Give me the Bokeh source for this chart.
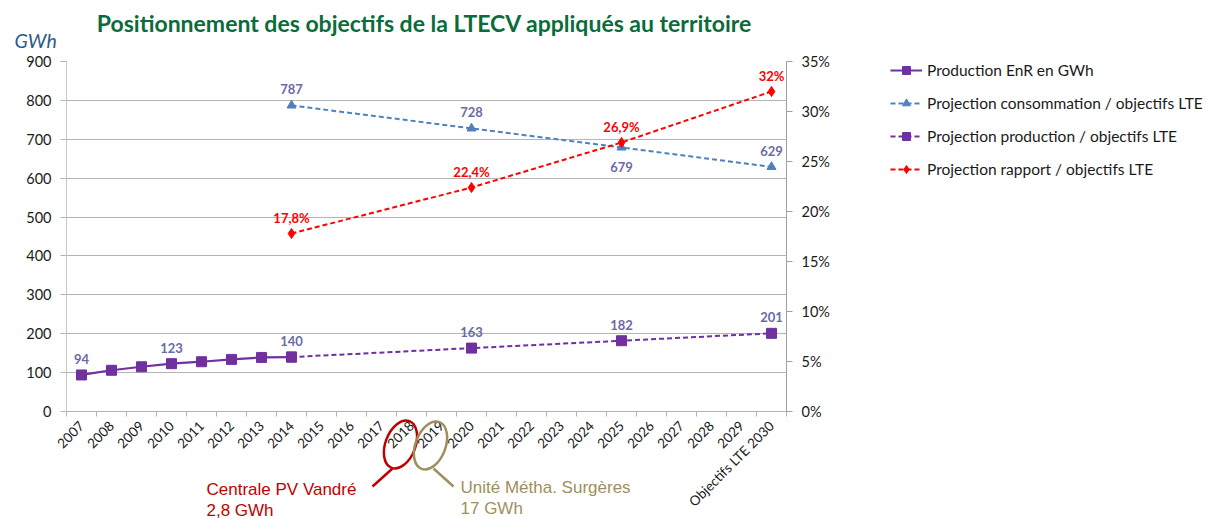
from math import pi, radians
from bokeh.plotting import figure
from bokeh.layouts import row
from bokeh.models import (Range1d, LinearAxis, FixedTicker, Legend, LegendItem,
                          PrintfTickFormatter)
from bokeh.core.properties import value
from bokeh.embed import file_html
from bokeh.resources import INLINE

# ---- data -------------------------------------------------------------
categories = ["2007", "2008", "2009", "2010", "2011", "2012", "2013", "2014",
              "2015", "2016", "2017", "2018", "2019", "2020", "2021", "2022",
              "2023", "2024", "2025", "2026", "2027", "2028", "2029",
              "Objectifs LTE 2030"]

prod_cats = ["2007", "2008", "2009", "2010", "2011", "2012", "2013", "2014"]
prod_values = [94, 106, 115, 123, 128, 134, 139, 140]
prod_labelled = ["2007", "2010", "2014"]

proj_cats = ["2014", "2020", "2025", "Objectifs LTE 2030"]
proj_prod_values = [140, 163, 182, 201]
proj_conso_values = [787, 728, 679, 629]
proj_ratio_values = [17.8, 22.4, 26.9, 32.0]

series_names = ["Production EnR en GWh",
                "Projection consommation / objectifs LTE",
                "Projection production / objectifs LTE",
                "Projection rapport / objectifs LTE"]

title_text = "Positionnement des objectifs de la LTECV appliqués au territoire"
unit_text = "GWh"
callout_1 = ["Centrale PV Vandré", "2,8 GWh"]
callout_2 = ["Unité Métha. Surgères", "17 GWh"]

# ---- styling ----------------------------------------------------------
PURPLE = "#7030A0"
BLUE = "#4F81BD"
RED = "#FF0000"
SLATE = "#6A6AA6"
GREEN = "#0B6B3A"
GRID = "#B4B4B4"
DARK_RED = "#C00000"
OLIVE = "#A08F5C"
FONT = "Lato"

W, H = 1211, 519
MAIN_W = 890                       # chart part; the legend panel fills the rest
# frame placement on the canvas (pixels)
FL, FT, FR, FB = 66, 61, 786, 411
FW, FH = FR - FL, FB - FT
Y_MAX = 900
N = len(categories)

pos = {c: i for i, c in enumerate(categories)}
x_prod = [pos[c] for c in prod_cats]
x_proj = [pos[c] for c in proj_cats]

p = figure(width=MAIN_W, height=H,
           x_range=Range1d(-0.5, N - 0.5),
           y_range=Range1d(0, Y_MAX),
           output_backend="svg", toolbar_location=None,
           min_border_left=FL, min_border_right=MAIN_W - FR,
           min_border_top=FT, min_border_bottom=H - FB,
           outline_line_color=None, background_fill_color="white",
           border_fill_color="white")

# ---- axes --------------------------------------------------------------
p.xaxis.ticker = FixedTicker(ticks=list(range(N)),
                             minor_ticks=[i - 0.5 for i in range(N + 1)])
p.xaxis.major_label_overrides = {i: c for i, c in enumerate(categories)}
p.xaxis.major_label_orientation = pi / 4
p.xaxis.major_tick_line_color = None
p.xaxis.major_tick_out = 0
p.xaxis.major_tick_in = 0
p.xaxis.minor_tick_out = 5
p.xaxis.minor_tick_in = 0
p.xaxis.minor_tick_line_color = GRID
p.xaxis.axis_line_color = GRID
p.xaxis.major_label_standoff = 7
p.xaxis.major_label_text_font = FONT
p.xaxis.major_label_text_font_size = "13.5px"
p.xaxis.major_label_text_color = "#1A1A1A"

p.yaxis.ticker = FixedTicker(ticks=[0, 100, 200, 300, 400, 500, 600, 700, 800, 900])
p.yaxis.axis_line_color = "#C8C8C8"
p.yaxis.major_tick_line_color = GRID
p.yaxis.major_tick_out = 6
p.yaxis.major_tick_in = 0
p.yaxis.minor_tick_line_color = None
p.yaxis.major_label_standoff = 9
p.yaxis.major_label_text_font = FONT
p.yaxis.major_label_text_font_size = "14.5px"
p.yaxis.major_label_text_color = "#1A1A1A"

p.extra_y_ranges = {"pct": Range1d(0, 35)}
right = LinearAxis(y_range_name="pct",
                   ticker=FixedTicker(ticks=[0, 5, 10, 15, 20, 25, 30, 35]),
                   formatter=PrintfTickFormatter(format="%d%%"))
right.axis_line_color = "#A0A0A0"
right.major_tick_line_color = "#A0A0A0"
right.major_tick_out = 6
right.major_tick_in = 0
right.minor_tick_line_color = None
right.major_label_standoff = 9
right.major_label_text_font = FONT
right.major_label_text_font_size = "14.5px"
right.major_label_text_color = "#1A1A1A"
p.add_layout(right, "right")

p.xgrid.grid_line_color = None
p.ygrid.grid_line_color = GRID
p.ygrid.grid_line_width = 1

# ---- series ------------------------------------------------------------
line_styles = [
    dict(line_color=PURPLE, line_width=2.2),
    dict(line_color=BLUE, line_width=2, line_dash="5 3"),
    dict(line_color=PURPLE, line_width=2, line_dash="5 3"),
    dict(line_color=RED, line_width=2, line_dash="5 3"),
]
marker_styles = [
    dict(marker="square", size=10, fill_color=PURPLE, line_color=PURPLE),
    dict(marker="triangle", size=9, fill_color=BLUE, line_color=BLUE),
    dict(marker="square", size=10, fill_color=PURPLE, line_color=PURPLE),
    dict(marker="diamond", size=10, fill_color=RED, line_color=RED),
]

p.line(x_prod, prod_values, **line_styles[0])
p.scatter(x_prod, prod_values, **marker_styles[0])

p.line(x_proj, proj_conso_values, **line_styles[1])
p.scatter(x_proj, proj_conso_values, **marker_styles[1])

p.line(x_proj, proj_prod_values, **line_styles[2])
p.scatter(x_proj, proj_prod_values, **marker_styles[2])

p.line(x_proj, proj_ratio_values, y_range_name="pct", **line_styles[3])
p.scatter(x_proj, proj_ratio_values, y_range_name="pct", **marker_styles[3])

# ---- value labels -------------------------------------------------------
label_style = dict(text_align="center", text_baseline="middle",
                   text_font=value(FONT), text_font_style="bold",
                   text_font_size="13px")


def pct_text(v):
    s = f"{v:.0f}%" if float(v).is_integer() else f"{v:.1f}%"
    return s.replace(".", ",")


lab_x = [pos[c] for c in prod_labelled]
lab_v = [prod_values[prod_cats.index(c)] for c in prod_labelled]
p.text(lab_x, lab_v, text=[str(v) for v in lab_v], y_offset=-16,
       text_color=SLATE, **label_style)

p.text(x_proj[1:], proj_prod_values[1:], text=[str(v) for v in proj_prod_values[1:]],
       y_offset=-16, text_color=SLATE, **label_style)

above = [i for i, c in enumerate(proj_cats) if c != "2025"]
below = [i for i, c in enumerate(proj_cats) if c == "2025"]
p.text([x_proj[i] for i in above], [proj_conso_values[i] for i in above],
       text=[str(proj_conso_values[i]) for i in above], y_offset=-16,
       text_color=SLATE, **label_style)
p.text([x_proj[i] for i in below], [proj_conso_values[i] for i in below],
       text=[str(proj_conso_values[i]) for i in below], y_offset=20,
       text_color=SLATE, **label_style)

p.text(x_proj, proj_ratio_values, text=[pct_text(v) for v in proj_ratio_values],
       y_offset=-16, text_color=RED, y_range_name="pct", **label_style)


# ---- texts around the frame (overlay level, anchored at the frame corner) ----
def canvas_text(cx, cy, txt, **kw):
    p.text(x=[-0.5], y=[0], text=[txt], x_offset=cx - FL, y_offset=cy - FB,
           text_baseline="middle", level="overlay", **kw)


canvas_text(424, 22, title_text, text_align="center", text_font=value(FONT),
            text_font_style="bold", text_font_size="23px", text_color=GREEN)
canvas_text(14, 40, unit_text, text_align="left", text_font=value(FONT),
            text_font_style="italic", text_font_size="19.5px", text_color="#2E5A8C")

for (cx, cy0, lines, col) in [(206, 489, callout_1, DARK_RED),
                              (460, 487, callout_2, OLIVE)]:
    for k, line in enumerate(lines):
        canvas_text(cx, cy0 + 21 * k, line, text_align="left",
                    text_font=value("Liberation Sans"), text_font_size="17px",
                    text_color=col)


# ---- rings around the 2018 / 2019 tick labels -----------------------------
def to_data(cx, cy):
    return -0.5 + (cx - FL) / FW * N, (FB - cy) / FH * Y_MAX


for (cx, cy, col, seg) in [(400, 444, DARK_RED, ((392, 468), (372, 486))),
                           (430, 445, OLIVE, ((433, 468), (453, 486)))]:
    ex, ey = to_data(cx, cy)
    p.ellipse(x=[ex], y=[ey], width=30, height=50, width_units="screen",
              height_units="screen", angle=radians(-21), fill_alpha=0,
              line_color=col, line_width=2.5, level="overlay")
    (x0, y0), (x1, y1) = seg
    d0, d1 = to_data(x0, y0), to_data(x1, y1)
    p.line([d0[0], d1[0]], [d0[1], d1[1]], line_color=col, line_width=2.5,
           level="overlay")

# ---- legend panel (its frame lines up with the chart frame) ---------------------
lg = figure(width=W - MAIN_W, height=H, x_range=Range1d(0, 1), y_range=Range1d(0, 1),
            x_axis_type=None, y_axis_type=None,
            min_border_left=0, min_border_right=0,
            min_border_top=FT, min_border_bottom=H - FB,
            output_backend="svg", toolbar_location=None,
            outline_line_color=None, background_fill_color="white",
            border_fill_color="white")
lg.xgrid.grid_line_color = None
lg.ygrid.grid_line_color = None

# legend sample renderers sit outside this panel's visible range
items = []
for name, ls, ms in zip(series_names, line_styles, marker_styles):
    r_line = lg.line([5, 6], [5, 5], **ls)
    r_pts = lg.scatter([5], [5], **ms)
    items.append(LegendItem(label=name, renderers=[r_line, r_pts]))

ROW_H, ROW_GAP, LEGEND_TOP = 20, 13, 60
legend_h = 4 * ROW_H + 3 * ROW_GAP
legend = Legend(items=items, location=(0, FB - (LEGEND_TOP + legend_h)))
legend.padding = 0
legend.margin = 0
legend.spacing = ROW_GAP
legend.glyph_width = 32
legend.glyph_height = ROW_H
legend.label_height = ROW_H
legend.label_standoff = 5
legend.border_line_color = None
legend.background_fill_alpha = 0
legend.label_text_font = FONT
legend.label_text_font_size = "15.5px"
legend.label_text_color = "#1A1A1A"
lg.add_layout(legend)

layout = row(p, lg, spacing=0)
open("out.html", "w").write(file_html(layout, INLINE))
